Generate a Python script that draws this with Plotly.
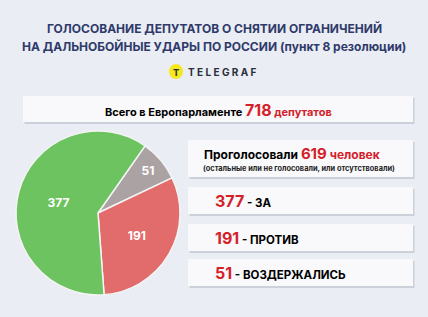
import plotly.graph_objects as go

W, H = 428, 317

labels = ["Воздержались", "Против", "За"]
values = [51, 191, 377]
colors = ["#aba3a3", "#e26b6b", "#6cc35f"]

total_meps = 718
voted = 619

title_lines = ["ГОЛОСОВАНИЕ ДЕПУТАТОВ О СНЯТИИ ОГРАНИЧЕНИЙ",
               "НА ДАЛЬНОБОЙНЫЕ УДАРЫ ПО РОССИИ (пункт 8 резолюции)"]
result_rows = [(377, "- ЗА"), (191, "- ПРОТИВ"), (51, "- ВОЗДЕРЖАЛИСЬ")]

RED = "#d42129"
NAVY = "#2f3a6b"
FONT = "Inter, Roboto, sans-serif"


def px(x):
    return x / W


def py(y):
    return 1 - y / H


fig = go.Figure()

# pie
fig.add_trace(go.Pie(
    labels=labels, values=values, sort=False, direction="clockwise", rotation=35,
    marker=dict(colors=colors, line=dict(color="#f4f4f4", width=1.5)),
    textinfo="value", textposition="inside", insidetextorientation="horizontal",
    textfont=dict(color="white", size=12, family=FONT, weight="bold"),
    domain=dict(x=[px(16), px(180)], y=[py(295), py(131)]),
    showlegend=False, hoverinfo="label+value",
))

shapes = []


def box(x0, y0, x1, y1):
    shapes.append(dict(type="rect", xref="paper", yref="paper",
                       x0=px(x0 + 1.5), x1=px(x1 + 1.5), y0=py(y1 + 2), y1=py(y0 + 2),
                       fillcolor="rgba(150,155,170,0.35)", line=dict(width=0), layer="below"))
    shapes.append(dict(type="rect", xref="paper", yref="paper",
                       x0=px(x0), x1=px(x1), y0=py(y1), y1=py(y0),
                       fillcolor="#f9f9fb", line=dict(width=0), layer="below"))


box(23, 96, 413, 122)
box(188, 140, 413, 177)
box(188, 187, 413, 214)
box(188, 224, 413, 251)
box(188, 259, 413, 286)

# logo circle
shapes.append(dict(type="circle", xref="paper", yref="paper",
                   x0=px(169), x1=px(183), y0=py(79), y1=py(64),
                   fillcolor="#f5e81c", line=dict(width=0)))

ann = []


def text(x, y, s, size=11, color="black", xanchor="center"):
    ann.append(dict(x=px(x), y=py(y), xref="paper", yref="paper", text=s,
                    showarrow=False, xanchor=xanchor, yanchor="middle",
                    font=dict(size=size, color=color, family=FONT)))


text(214, 28, "<b>" + title_lines[0] + "</b>", 12, NAVY)
text(214, 47, "<b>" + title_lines[1] + "</b>", 12, NAVY)
text(176, 72, "<b>T</b>", 9.5, "#2b2f3a")
text(186, 72, "<b>T E L E G R A F</b>", 10, "#2b2f3a", "left")

text(218, 110,
     "<b>Всего в Европарламенте <span style='font-size:16px;color:%s'>%d</span>"
     "<span style='color:%s'> депутатов</span></b>" % (RED, total_meps, RED),
     11, "black")
text(202, 153,
     "<b>Проголосовали <span style='font-size:15px;color:%s'>%d</span>"
     "<span style='color:%s'> человек</span></b>" % (RED, voted, RED),
     12, "black", "left")
text(201, 168, "<b>(остальные или не голосовали, или отсутствовали)</b>", 7.4, "#222", "left")

for (num, lab), yc in zip(result_rows, [201, 238, 273]):
    text(213, yc,
         "<b><span style='font-size:16px;color:%s'>%d</span> %s</b>" % (RED, num, lab),
         11.5, "black", "left")

fig.update_layout(
    width=W, height=H, margin=dict(l=0, r=0, t=0, b=0),
    paper_bgcolor="#eaedf3", plot_bgcolor="#eaedf3",
    shapes=shapes, annotations=ann,
)

fig.write_html("out.html", config={"displayModeBar": False})
